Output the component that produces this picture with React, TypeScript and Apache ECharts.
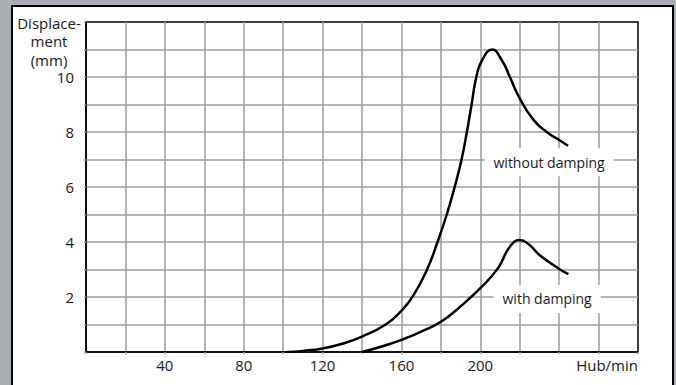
import React, { useEffect, useRef } from "react";
import * as echarts from "echarts";

const withoutDamping: [number, number][] = [
  [102, 0], [110, 0.04], [120, 0.13], [130, 0.3], [140, 0.56], [152, 1.0],
  [160, 1.5], [166, 2.05], [173, 3.0], [178.3, 4.0], [183, 5.0], [187, 6.0],
  [190.5, 7.0], [193.2, 8.0], [195.6, 9.0], [198, 10.0], [201, 10.62], [206, 11.0],
  [211, 10.6], [215, 10.0], [220, 9.22], [227, 8.44], [233.7, 8.0], [240, 7.71],
  [244.5, 7.5],
];

const withDamping: [number, number][] = [
  [140, 0], [150, 0.2], [160, 0.44], [170, 0.74], [180, 1.1], [190, 1.66],
  [200, 2.32], [209, 3.05], [215, 3.83], [220, 4.07], [225, 3.89], [230, 3.53],
  [240.5, 3.0], [244.7, 2.83],
];

const xTickLabels = [40, 80, 120, 160, 200];
const xUnitLabel = "Hub/min";
const yTickLabels = [2, 4, 6, 8, 10];
const yAxisTitleLines = ["Displace-", "ment", "(mm)"];
const titleTops = [14, 32, 51];
const labelWithout = { text: "without damping", at: [234.9, 6.9] };
const labelWith = { text: "with damping", at: [233.9, 1.93] };

const FONT = "'Open Sans', 'Noto Sans', sans-serif";
const TXT = "#1a1a1a";
const GRIDC = "#9d9d9d";

export default function App() {
  const ref = useRef<HTMLDivElement>(null);
  useEffect(() => {
    if (!ref.current) return;
    const chart = echarts.init(ref.current, undefined, { renderer: "svg" });
    const mkLabel = (l: { text: string; at: number[] }) => ({
      coord: l.at,
      value: l.text,
      symbol: "rect",
      symbolSize: 1,
      itemStyle: { color: "rgba(0,0,0,0)" },
      label: {
        show: true,
        position: "inside",
        formatter: l.text,
        color: TXT,
        fontSize: 14,
        fontFamily: FONT,
        backgroundColor: "#fff",
        padding: [7, 9],
      },
    });
    chart.setOption({
      animation: false,
      backgroundColor: "#a9aeb4",
      graphic: [
        {
          type: "rect",
          z: -10,
          shape: { x: 12, y: 6, width: 661, height: 400 },
          style: { fill: "#fff", stroke: "#000", lineWidth: 2 },
        },
      ],
      title: yAxisTitleLines.map((t, i) => ({
        text: t,
        left: 49,
        top: titleTops[i],
        padding: 0,
        textAlign: "center",
        textStyle: {
          fontSize: 15,
          fontWeight: "normal",
          fontFamily: FONT,
          color: TXT,
          lineHeight: 17,
        },
      })),
      grid: {
        left: 86,
        right: 38,
        top: 22,
        bottom: 33,
        show: true,
        borderColor: "#000",
        borderWidth: 1.5,
        backgroundColor: "transparent",
      },
      xAxis: {
        type: "value",
        min: 0,
        max: 280,
        interval: 20,
        axisLine: { show: true, lineStyle: { color: "#000", width: 1.5 } },
        axisTick: { show: true, length: 2, lineStyle: { color: GRIDC, width: 1.5 } },
        splitLine: {
          show: true,
          showMinLine: false,
          showMaxLine: false,
          lineStyle: { color: GRIDC, width: 1.5 },
        },
        axisLabel: {
          margin: 5,
          color: TXT,
          fontSize: 15,
          fontFamily: FONT,
          alignMaxLabel: "right",
          formatter: (v: number) =>
            v === 280 ? xUnitLabel : xTickLabels.includes(v) ? String(v) : "",
        },
      },
      yAxis: {
        type: "value",
        min: 0,
        max: 12,
        interval: 1,
        axisLine: { show: true, lineStyle: { color: "#000", width: 1.5 } },
        axisTick: { show: true, length: 2, lineStyle: { color: GRIDC, width: 1.5 } },
        splitLine: {
          show: true,
          showMinLine: false,
          showMaxLine: false,
          lineStyle: { color: GRIDC, width: 1.5 },
        },
        axisLabel: {
          margin: 12,
          color: TXT,
          fontSize: 15,
          fontFamily: FONT,
          formatter: (v: number) => (yTickLabels.includes(v) ? String(v) : ""),
        },
      },
      series: [
        {
          type: "line",
          name: "without damping",
          data: withoutDamping,
          smooth: 0.5,
          showSymbol: false,
          lineStyle: { color: "#000", width: 2.5 },
          markPoint: { silent: true, data: [mkLabel(labelWithout)] },
        },
        {
          type: "line",
          name: "with damping",
          data: withDamping,
          smooth: 0.5,
          showSymbol: false,
          lineStyle: { color: "#000", width: 2.5 },
          markPoint: { silent: true, data: [mkLabel(labelWith)] },
        },
      ],
    });
    return () => chart.dispose();
  }, []);
  return (
    <div
      ref={ref}
      style={{ position: "absolute", left: 0, top: 0, width: 676, height: 385 }}
    />
  );
}
